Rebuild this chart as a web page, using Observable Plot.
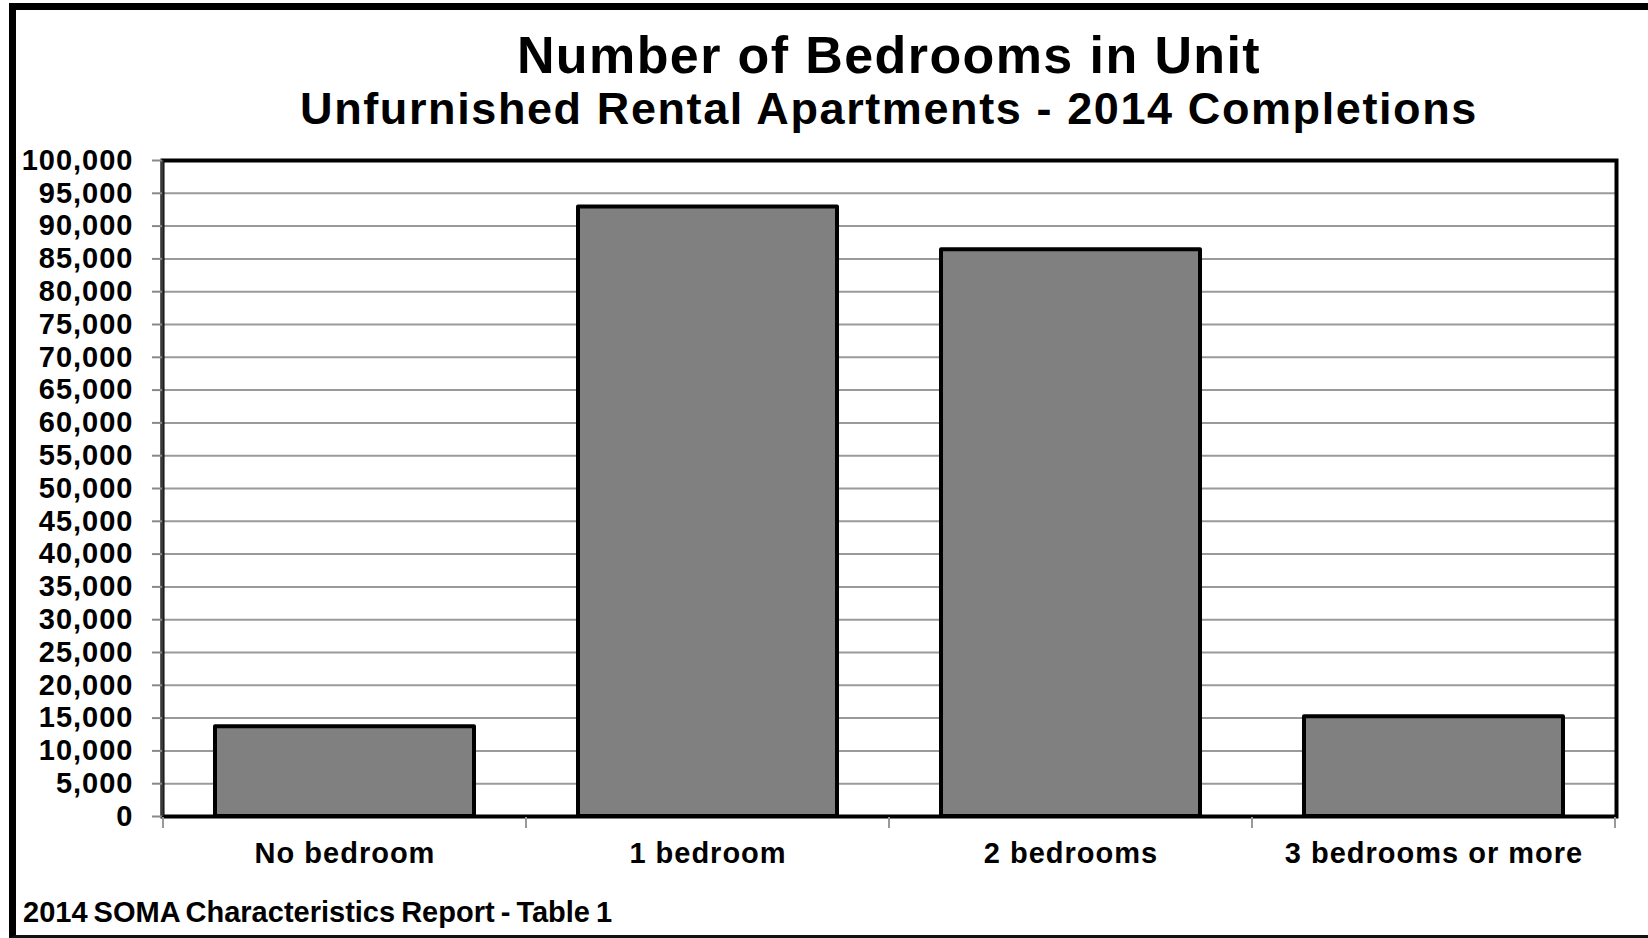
<!DOCTYPE html>
<html>
<head>
<meta charset="utf-8">
<script src="https://cdn.jsdelivr.net/npm/d3@7"></script>
<script src="https://cdn.jsdelivr.net/npm/@observablehq/plot@0.6"></script>
<style>
  html, body { margin: 0; padding: 0; background: #fff; }
  body { width: 1648px; height: 938px; overflow: hidden; position: relative; font-family: "Liberation Sans", Arial, sans-serif; }
  #border { position: absolute; left: 9px; top: 3px; width: 1700px; height: 935px; box-sizing: border-box;
            border-left: 7px solid #000; border-top: 7px solid #000; border-bottom: 3px solid #111; }
  .ttl { position: absolute; left: 162px; width: 1454px; text-align: center; font-weight: bold; color: #000; white-space: nowrap; }
  #t1 { top: 25px; font-size: 52px; line-height: 60px; letter-spacing: 1.4px; }
  #t2 { top: 83px; font-size: 45px; line-height: 52px; letter-spacing: 1.6px; }
  #cap { position: absolute; left: 23px; top: 895px; font-size: 29px; line-height: 34px; font-weight: bold; color: #000; word-spacing: -2px; white-space: nowrap; }
  #chart { position: absolute; left: 0; top: 120px; }
  #chart svg text { letter-spacing: 1px; }
</style>
</head>
<body>
<div id="border"></div>
<div class="ttl" id="t1">Number of Bedrooms in Unit</div>
<div class="ttl" id="t2">Unfurnished Rental Apartments - 2014 Completions</div>
<div id="chart"></div>
<div id="cap">2014 SOMA Characteristics Report - Table 1</div>
<script>
const categories = ["No bedroom", "1 bedroom", "2 bedrooms", "3 bedrooms or more"];
const units = [13700, 92900, 86400, 15200];
const yTicks = [0, 5000, 10000, 15000, 20000, 25000, 30000, 35000, 40000, 45000, 50000,
                55000, 60000, 65000, 70000, 75000, 80000, 85000, 90000, 95000, 100000];

const data = categories.map((c, i) => ({category: c, units: units[i]}));

function categoryEdges(index, scales, values, dimensions) {
  const {width, height, marginLeft, marginRight, marginTop, marginBottom} = dimensions;
  const x = scales.x;
  const n = categories.length;
  let edges;
  if (x && typeof x.step === "function" && typeof x.bandwidth === "function") {
    const step = x.step(), bw = x.bandwidth();
    edges = categories.map(c => x(c) + bw / 2 - step / 2);
    edges.push(x(categories[n - 1]) + bw / 2 + step / 2);
  } else {
    const step = (width - marginLeft - marginRight) / n;
    edges = d3.range(n + 1).map(i => marginLeft + i * step);
  }
  const y0 = height - marginBottom;
  const g = d3.create("svg:g");
  g.append("line")
    .attr("x1", marginLeft).attr("x2", marginLeft)
    .attr("y1", marginTop).attr("y2", y0)
    .attr("stroke", "#3a3a3a").attr("stroke-width", 3);
  g.selectAll("line.edge").data(edges).join("line")
    .attr("class", "edge")
    .attr("x1", d => d).attr("x2", d => d)
    .attr("y1", y0 + 1).attr("y2", y0 + 12)
    .attr("stroke", "#999").attr("stroke-width", 2);
  return g.node();
}

const plot = Plot.plot({
  width: 1648,
  height: 770,
  marginLeft: 162,
  marginRight: 32,
  marginTop: 40,
  marginBottom: 74,
  style: {
    fontFamily: '"Liberation Sans", Arial, sans-serif',
    fontSize: "29px",
    fontWeight: "bold",
    background: "transparent",
    color: "#000",
    overflow: "visible"
  },
  x: {type: "band", domain: categories, paddingInner: 0.4 / 1.4, paddingOuter: 0.2 / 1.4, label: null},
  y: {domain: [0, 100000], label: null},
  marks: [
    Plot.ruleY(yTicks, {stroke: "#9a9a9a", strokeWidth: 2}),
    Plot.barY(data, {x: "category", y: "units", fill: "#808080", stroke: "#000", strokeWidth: 4, strokeLinejoin: "round"}),
    Plot.frame({stroke: "#000", strokeWidth: 4}),
    categoryEdges,
    Plot.axisY({ticks: yTicks, tickSize: 10, tickPadding: 19, stroke: "#888", strokeWidth: 2, fill: "#000",
                tickFormat: d3.format(","), label: null}),
    Plot.axisX({tickSize: 0, tickPadding: 26, fill: "#000", label: null})
  ]
});
document.getElementById("chart").appendChild(plot);
</script>
</body>
</html>
